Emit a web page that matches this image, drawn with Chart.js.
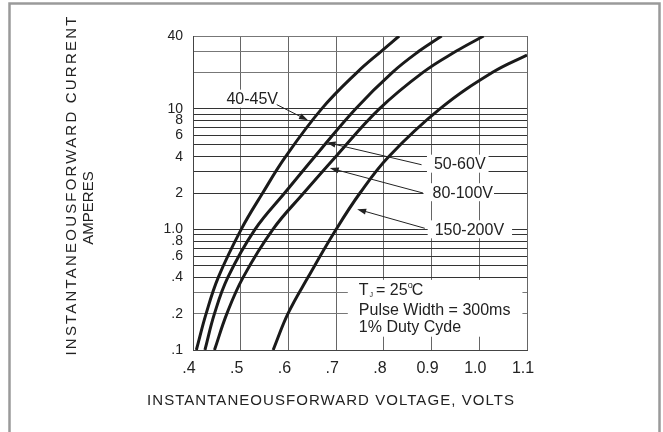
<!DOCTYPE html>
<html>
<head>
<meta charset="utf-8">
<script src="https://cdn.jsdelivr.net/npm/chart.js@4"></script>
<style>
    html, body { margin: 0; padding: 0; background: #fff; }
    #wrap { position: relative; width: 663px; height: 432px; }
</style>
</head>
<body>
<div id="wrap"><canvas id="chart"></canvas></div>
<script>
// forward voltage (V) read at each current (A), one pair of arrays per curve
const seriesNames = ["40-45V", "50-60V", "80-100V", "150-200V"];
const amps4045 = [0.1, 0.2, 0.4, 1, 2, 4, 10, 20, 30, 40];
const volts4045 = [0.407, 0.4275, 0.453, 0.501, 0.546, 0.594, 0.670, 0.744, 0.795, 0.832];
const amps5060 = [0.1, 0.2, 0.4, 1, 2, 4, 10, 20, 30, 40];
const volts5060 = [0.425, 0.445, 0.473, 0.530, 0.592, 0.655, 0.741, 0.818, 0.874, 0.921];
const amps80100 = [0.1, 0.2, 0.4, 1, 2, 4, 10, 20, 30, 40];
const volts80100 = [0.445, 0.471, 0.505, 0.5675, 0.632, 0.699, 0.791, 0.882, 0.952, 1.009];
const amps150200 = [0.1, 0.2, 0.4, 1, 2, 4, 10, 20, 27.8];
const volts150200 = [0.568, 0.599, 0.641, 0.700, 0.750, 0.810, 0.918, 1.028, 1.1];

const xTickValues = [0.4, 0.5, 0.6, 0.7, 0.8, 0.9, 1.0, 1.1];
const xTickLabels = [".4", ".5", ".6", ".7", ".8", "0.9", "1.0", "1.1"];
const yGridValues = [0.1, 0.2, 0.3, 0.4, 0.5, 0.6, 0.7, 0.8, 0.9, 1, 2, 3, 4, 5, 6, 7, 8, 9, 10, 20, 30, 40];
const yLabelValues = [0.1, 0.2, 0.4, 0.6, 0.8, 1, 2, 4, 6, 8, 10, 40];
const yLabelTexts = [".1", ".2", ".4", ".6", ".8", "1.0", "2", "4", "6", "8", "10", "40"];
const darkGrid = [0.4, 0.5, 0.6, 0.7, 0.8, 0.9, 1, 2, 3, 4, 5, 6, 7, 8, 9, 10];

const xTitle = "INSTANTANEOUSFORWARD VOLTAGE, VOLTS";
const yTitle1 = "INSTANTANEOUSFORWARD CURRENT";
const yTitle2 = "AMPERES";
const conditions = ["Pulse Width = 300ms", "1% Duty Cyde"];

// label anchors (data units): text start, arrow tail and tip
const notes = [
    { text: seriesNames[0], x: 0.470, y: 12.1, from: [0.5755, 10.8], to: [0.641, 8.0], padL: 3, padR: 3 },
    { text: seriesNames[1], x: 0.905, y: 3.5, from: [0.879, 3.43], to: [0.680, 5.25], padL: 7, padR: 3 },
    { text: seriesNames[2], x: 0.902, y: 2.03, from: [0.882, 2.0], to: [0.6866, 3.22], padL: 9, padR: 1 },
    { text: seriesNames[3], x: 0.9065, y: 1.0, from: [0.8858, 1.02], to: [0.744, 1.47], padL: 7, padR: 8 }
];
const condAnchor = { x: 0.7475, y: [0.315, 0.215, 0.156] };

const FONT = "'Liberation Sans', Arial, sans-serif";
const INK = "#222";

function toPts(xs, ys) {
    return xs.map((v, i) => ({ x: v, y: ys[i] }));
}

function arrow(ctx, x1, y1, x2, y2) {
    const a = Math.atan2(y2 - y1, x2 - x1);
    ctx.beginPath();
    ctx.moveTo(x1, y1);
    ctx.lineTo(x2 - 6 * Math.cos(a), y2 - 6 * Math.sin(a));
    ctx.stroke();
    ctx.beginPath();
    ctx.moveTo(x2, y2);
    ctx.lineTo(x2 - 9 * Math.cos(a) + 3 * Math.sin(a), y2 - 9 * Math.sin(a) - 3 * Math.cos(a));
    ctx.lineTo(x2 - 9 * Math.cos(a) - 3 * Math.sin(a), y2 - 9 * Math.sin(a) + 3 * Math.cos(a));
    ctx.closePath();
    ctx.fill();
}

const overlay = {
    id: "overlay",
    beforeDraw(chart) {
        const ctx = chart.ctx;
        ctx.save();
        ctx.strokeStyle = "#9a9a9a";
        ctx.lineWidth = 2.5;
        ctx.beginPath();
        ctx.moveTo(9.5, 440);
        ctx.lineTo(9.5, 3.5);
        ctx.lineTo(659.5, 3.5);
        ctx.lineTo(659.5, 440);
        ctx.stroke();
        ctx.restore();
    },
    afterDatasetsDraw(chart) {
        const ctx = chart.ctx;
        const sx = chart.scales.x, sy = chart.scales.y;
        ctx.save();
        ctx.font = "16px " + FONT;
        ctx.textBaseline = "middle";
        ctx.fillStyle = INK;
        ctx.strokeStyle = INK;
        ctx.lineWidth = 1;

        for (const n of notes) {
            const tx = sx.getPixelForValue(n.x);
            const ty = sy.getPixelForValue(n.y);
            const w = ctx.measureText(n.text).width;
            ctx.fillStyle = "#fff";
            ctx.fillRect(tx - n.padL, ty - 9, w + n.padL + n.padR, 18);
            ctx.fillStyle = INK;
            arrow(ctx, sx.getPixelForValue(n.from[0]), sy.getPixelForValue(n.from[1]),
                sx.getPixelForValue(n.to[0]), sy.getPixelForValue(n.to[1]));
            ctx.fillText(n.text, tx, ty + 1);
        }

        // test conditions block
        const cx = sx.getPixelForValue(condAnchor.x);
        const cys = condAnchor.y.map(v => sy.getPixelForValue(v));
        const widest = Math.max(...conditions.map(t => ctx.measureText(t).width));
        ctx.fillStyle = "#fff";
        ctx.fillRect(cx - 11, cys[0] - 10, widest + 23, cys[2] - cys[0] + 20);
        ctx.fillStyle = INK;

        let x = cx;
        ctx.fillText("T", x, cys[0] + 1);
        x += ctx.measureText("T").width + 1;
        ctx.font = "7px " + FONT;
        ctx.fillText("J", x, cys[0] + 5);
        x += ctx.measureText("J").width + 3;
        ctx.font = "16px " + FONT;
        ctx.fillText("= 25", x, cys[0] + 1);
        x += ctx.measureText("= 25").width;
        ctx.font = "9px " + FONT;
        ctx.fillText("o", x, cys[0] - 4);
        x += ctx.measureText("o").width - 1;
        ctx.font = "16px " + FONT;
        ctx.fillText("C", x, cys[0] + 1);
        conditions.forEach((t, i) => ctx.fillText(t, cx, cys[i + 1] + 1));
        ctx.restore();
    },
    afterDraw(chart) {
        const ctx = chart.ctx;
        ctx.save();
        ctx.fillStyle = INK;
        ctx.textAlign = "center";
        ctx.textBaseline = "middle";
        ctx.font = "15px " + FONT;
        ctx.letterSpacing = "1.05px";
        ctx.fillText(xTitle, 331, 401);

        ctx.translate(72, 185);
        ctx.rotate(-Math.PI / 2);
        ctx.letterSpacing = "2.2px";
        ctx.fillText(yTitle1, 0, 0);
        ctx.letterSpacing = "0px";
        ctx.fillText(yTitle2, -23, 17);
        ctx.restore();
    }
};

const curveStyle = {
    showLine: true,
    pointRadius: 0,
    borderWidth: 3,
    borderColor: "#1a1a1a",
    tension: 0.4,
    fill: false
};

new Chart(document.getElementById("chart"), {
    type: "scatter",
    data: {
        datasets: [
            { label: seriesNames[0], data: toPts(volts4045, amps4045), ...curveStyle },
            { label: seriesNames[1], data: toPts(volts5060, amps5060), ...curveStyle },
            { label: seriesNames[2], data: toPts(volts80100, amps80100), ...curveStyle },
            { label: seriesNames[3], data: toPts(volts150200, amps150200), ...curveStyle }
        ]
    },
    options: {
        responsive: true,
        maintainAspectRatio: false,
        animation: false,
        devicePixelRatio: 1,
        layout: { padding: { left: 0, top: 36, right: 136, bottom: 0 } },
        plugins: {
            legend: { display: false },
            tooltip: { enabled: false }
        },
        scales: {
            x: {
                type: "linear",
                min: 0.4,
                max: 1.1,
                afterBuildTicks: (s) => { s.ticks = xTickValues.map(v => ({ value: v })); },
                afterFit: (s) => { s.height = 82; },
                ticks: {
                    autoSkip: false,
                    maxRotation: 0,
                    padding: 9,
                    labelOffset: -4,
                    color: INK,
                    font: { family: FONT, size: 16 },
                    callback: (v) => {
                        const k = xTickValues.indexOf(v);
                        return k < 0 ? "" : xTickLabels[k];
                    }
                },
                grid: { color: "#666", lineWidth: 1, drawTicks: false },
                border: { color: "#444", width: 1 }
            },
            y: {
                type: "logarithmic",
                min: 0.1,
                max: 40,
                afterBuildTicks: (s) => { s.ticks = yGridValues.map(v => ({ value: v })); },
                afterFit: (s) => { s.width = 193; },
                ticks: {
                    autoSkip: false,
                    padding: 10,
                    color: INK,
                    font: { family: FONT, size: 14 },
                    callback: (v) => {
                        const k = yLabelValues.indexOf(v);
                        return k < 0 ? "" : yLabelTexts[k];
                    }
                },
                grid: {
                    drawTicks: false,
                    lineWidth: 1,
                    color: (c) => (c.tick && darkGrid.includes(c.tick.value)) ? "#333" : "#777"
                },
                border: { color: "#444", width: 1 }
            }
        }
    },
    plugins: [overlay]
});
</script>
</body>
</html>
